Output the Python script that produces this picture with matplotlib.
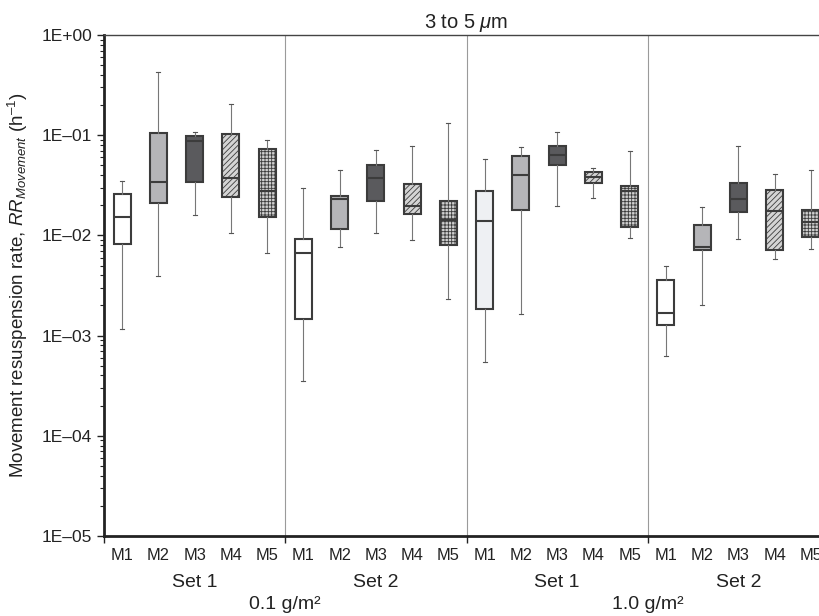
import math
import matplotlib
matplotlib.use("Agg")
import matplotlib.pyplot as plt
import matplotlib.ticker as mticker

plt.rcParams["font.family"] = ["Liberation Sans", "DejaVu Sans"]
plt.rcParams["mathtext.fontset"] = "custom"
plt.rcParams["mathtext.rm"] = "Liberation Sans"
plt.rcParams["mathtext.it"] = "Liberation Sans:italic"
plt.rcParams["hatch.linewidth"] = 0.6

# ── DANE ──────────────────────────────────────────────────────────────────────
methods = ["M1", "M2", "M3", "M4", "M5"]
sets = ["Set 1", "Set 2", "Set 1", "Set 2"]
loadings = ["0.1 g/m\u00b2", "1.0 g/m\u00b2"]

# kolejność: Set1 0.1, Set2 0.1, Set1 1.0, Set2 1.0 ; w każdej M1..M5
whis_hi = [0.0347, 0.427, 0.107, 0.204, 0.0891,
           0.030, 0.0447, 0.0719, 0.0776, 0.132,
           0.0584, 0.0759, 0.107, 0.0475, 0.0692,
           0.0049, 0.0191, 0.0782, 0.041, 0.0447]
q3 = [0.0259, 0.106, 0.098, 0.103, 0.073,
      0.00926, 0.0247, 0.0509, 0.0324, 0.022,
      0.0275, 0.0621, 0.0782, 0.043, 0.0314,
      0.00358, 0.0128, 0.0334, 0.0284, 0.0181]
median = [0.0151, 0.0344, 0.0878, 0.0372, 0.028,
          0.0066, 0.0229, 0.0372, 0.0195, 0.0141,
          0.014, 0.0404, 0.064, 0.0383, 0.0275,
          0.0017, 0.0077, 0.0231, 0.0175, 0.0137]
q1 = [0.0083, 0.0209, 0.0339, 0.0242, 0.0151,
      0.00148, 0.0117, 0.0220, 0.0165, 0.0081,
      0.00186, 0.0178, 0.0501, 0.0336, 0.0122,
      0.00129, 0.0071, 0.0172, 0.0072, 0.0096]
whis_lo = [0.00117, 0.0039, 0.0158, 0.0105, 0.0066,
           0.000349, 0.0076, 0.01055, 0.0089, 0.0023,
           0.000545, 0.00165, 0.0198, 0.0234, 0.0095,
           0.00062, 0.0020, 0.0093, 0.0058, 0.0074]

# ── STYL ──────────────────────────────────────────────────────────────────────
face = {"M1": "white", "M2": "#b5b5b8", "M3": "#5a5a5d", "M4": "#d4d4d4", "M5": "#d0d0d0"}
hatch = {"M1": None, "M2": None, "M3": None, "M4": "//////", "M5": "+++++"}
edge = "#3c3c3c"
txt = "#222222"

stats = []
for i in range(len(median)):
    stats.append({"med": median[i], "q1": q1[i], "q3": q3[i],
                  "whislo": whis_lo[i], "whishi": whis_hi[i], "fliers": []})
positions = [i + 0.5 for i in range(len(stats))]

fig = plt.figure(figsize=(8.19, 6.16), dpi=100)
ax = fig.add_axes([104 / 819, 80 / 616, 725 / 819, 501 / 616])

bp = ax.bxp(stats, positions=positions, widths=0.47, patch_artist=True,
            showfliers=False, capwidths=0.11,
            boxprops=dict(edgecolor=edge, linewidth=1.5),
            medianprops=dict(color=edge, linewidth=1.5),
            whiskerprops=dict(color="#777777", linewidth=0.8),
            capprops=dict(color="#555555", linewidth=0.8),
            zorder=3)

for i, box in enumerate(bp["boxes"]):
    m = methods[i % 5]
    box.set_facecolor(face[m])
    if hatch[m]:
        box.set_hatch(hatch[m])
# Set 1 przy 1.0 g/m2 – M1 lekko szary
bp["boxes"][10].set_facecolor("#eef0f3")

# linie podziału grup
for xb in [5, 10, 15]:
    ax.axvline(xb, color="#9a9a9a", linewidth=0.8, zorder=1)

ax.set_yscale("log")
ax.set_ylim(1e-5, 1)
ax.set_xlim(0, 20)

ax.yaxis.set_major_locator(mticker.LogLocator(base=10, numticks=10))
ax.yaxis.set_minor_locator(mticker.LogLocator(base=10, subs=range(2, 10), numticks=20))
ax.yaxis.set_minor_formatter(mticker.NullFormatter())
ax.yaxis.set_major_formatter(mticker.FuncFormatter(
    lambda v, p: "1E{}{:02d}".format("+" if v >= 1 else "\u2013", abs(round(math.log10(v))))))
ax.tick_params(axis="y", which="major", length=5, width=1, labelsize=12.5, colors=txt)
ax.tick_params(axis="y", which="minor", length=3, width=0.8, colors=txt)

ax.set_xticks([0, 5, 10, 15, 20])
ax.set_xticklabels([])
ax.tick_params(axis="x", which="major", length=5, width=1, colors=txt)
ax.set_xticks(positions, minor=True)
ax.set_xticklabels(methods * 4, minor=True)
ax.tick_params(axis="x", which="minor", length=0, pad=9, labelsize=11.8, labelcolor=txt)

for s in ["left", "bottom"]:
    ax.spines[s].set_linewidth(2)
    ax.spines[s].set_color(txt)
ax.spines["top"].set_linewidth(1)
ax.spines["top"].set_color("#444444")
ax.spines["right"].set_visible(False)

# etykiety zestawów i obciążeń
tr = ax.get_xaxis_transform()
for k, name in enumerate(sets):
    ax.text(k * 5 + 2.5, -0.092, name, transform=tr, ha="center", va="center", fontsize=14, color=txt)
for k, name in enumerate(loadings):
    ax.text(k * 10 + 5, -0.136, name, transform=tr, ha="center", va="center", fontsize=14, color=txt)

ax.set_title("3 to 5 $\\mu$m", fontsize=14.5, pad=5, color=txt)
ax.set_ylabel("Movement resuspension rate, $\\it{RR}_{\\it{Movement}}$ (h$^{\u2013 1}$)",
              fontsize=13.5, color=txt, labelpad=8)

plt.savefig("out.png", dpi=100)
plt.close()
